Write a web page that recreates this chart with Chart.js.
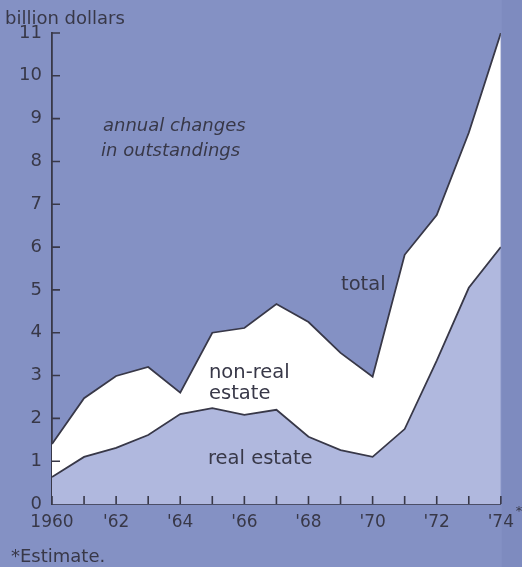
<!DOCTYPE html>
<html><head><meta charset="utf-8">
<script src="https://cdn.jsdelivr.net/npm/chart.js@4/dist/chart.umd.min.js"></script>
<style>html,body{margin:0;padding:0;background:#8591c3;}canvas{display:block;}</style>
</head><body>
<canvas id="c" width="522" height="567"></canvas>
<script>
const years = [1960,1961,1962,1963,1964,1965,1966,1967,1968,1969,1970,1971,1972,1973,1974];
const totalChange = [1.40,2.47,2.99,3.20,2.60,4.00,4.11,4.67,4.25,3.53,2.97,5.82,6.75,8.67,11.0];
const realEstate = [0.63,1.10,1.31,1.61,2.10,2.24,2.08,2.20,1.57,1.26,1.10,1.75,3.35,5.05,6.00];
const yTicks = [0,1,2,3,4,5,6,7,8,9,10,11];
const xLabels = {1960:'1960',1962:"'62",1964:"'64",1966:"'66",1968:"'68",1970:"'70",1972:"'72",1974:"'74"};

const INK = '#383848';
const FONT = '"DejaVu Sans", sans-serif';

const deco = {
  id:'deco',
  beforeDraw(chart){
    const {ctx, chartArea:a} = chart;
    ctx.save();
    ctx.fillStyle = '#8491c4';
    ctx.fillRect(0,0,chart.width,chart.height);
    ctx.fillStyle = '#7e8bbf';
    ctx.fillRect(a.right+1,0,chart.width-a.right,chart.height);
    ctx.restore();
  },
  afterDraw(chart){
    const {ctx, chartArea:a, scales:{x,y}} = chart;
    ctx.save();
    ctx.strokeStyle = INK; ctx.lineWidth = 1.6;
    ctx.beginPath();
    years.forEach(v=>{const px=x.getPixelForValue(v); ctx.moveTo(px,a.bottom); ctx.lineTo(px,a.bottom-8);});
    yTicks.forEach(v=>{ if(v===0) return; const py=y.getPixelForValue(v); ctx.moveTo(a.left,py); ctx.lineTo(a.left+8,py);});
    ctx.stroke();
    ctx.fillStyle = INK;
    ctx.textBaseline = 'alphabetic';
    ctx.font = '18px '+FONT;
    ctx.fillText('billion dollars', 5, 24);
    ctx.fillText('*Estimate.', 11, 562);
    ctx.font = '13px '+FONT;
    ctx.fillText('*', x.getPixelForValue(1974)+15, 515);
    ctx.font = 'italic 18px '+FONT;
    ctx.fillText('annual changes', 103, 131);
    ctx.fillText('in outstandings', 101, 156);
    ctx.font = '19.5px '+FONT;
    ctx.fillText('total', 341, 290);
    ctx.fillText('non-real', 209, 378);
    ctx.fillText('estate', 209, 399);
    ctx.fillText('real estate', 208, 464);
    ctx.restore();
  }
};

new Chart(document.getElementById('c'), {
  type:'line',
  data:{
    datasets:[
      {label:'real estate', data: years.map((yr,i)=>({x:yr,y:realEstate[i]})), borderColor:INK, borderWidth:1.8, backgroundColor:'#b0b8de', fill:'origin', pointRadius:0, tension:0},
      {label:'total', data: years.map((yr,i)=>({x:yr,y:totalChange[i]})), borderColor:INK, borderWidth:1.8, backgroundColor:'#ffffff', fill:'-1', pointRadius:0, tension:0}
    ]
  },
  options:{
    responsive:false, animation:false, devicePixelRatio:1,
    layout:{padding:{top:33,right:20,left:0,bottom:0}},
    plugins:{legend:{display:false}, tooltip:{enabled:false}},
    scales:{
      x:{type:'linear', min:1960, max:1974,
        afterFit(s){ s.height = 63; },
        grid:{display:false, drawTicks:false},
        border:{display:true, color:INK, width:1.8},
        ticks:{stepSize:1, autoSkip:false, maxRotation:0, padding:8, color:INK, font:{family:'"DejaVu Sans", sans-serif', size:17},
          callback:(v)=> xLabels[v] || ''}
      },
      y:{min:0, max:11,
        afterFit(s){ s.width = 52; },
        grid:{display:false, drawTicks:false},
        border:{display:true, color:INK, width:1.8},
        ticks:{stepSize:1, padding:10, color:INK, font:{family:'"DejaVu Sans", sans-serif', size:18}}
      }
    }
  },
  plugins:[deco]
});
</script>
</body></html>
